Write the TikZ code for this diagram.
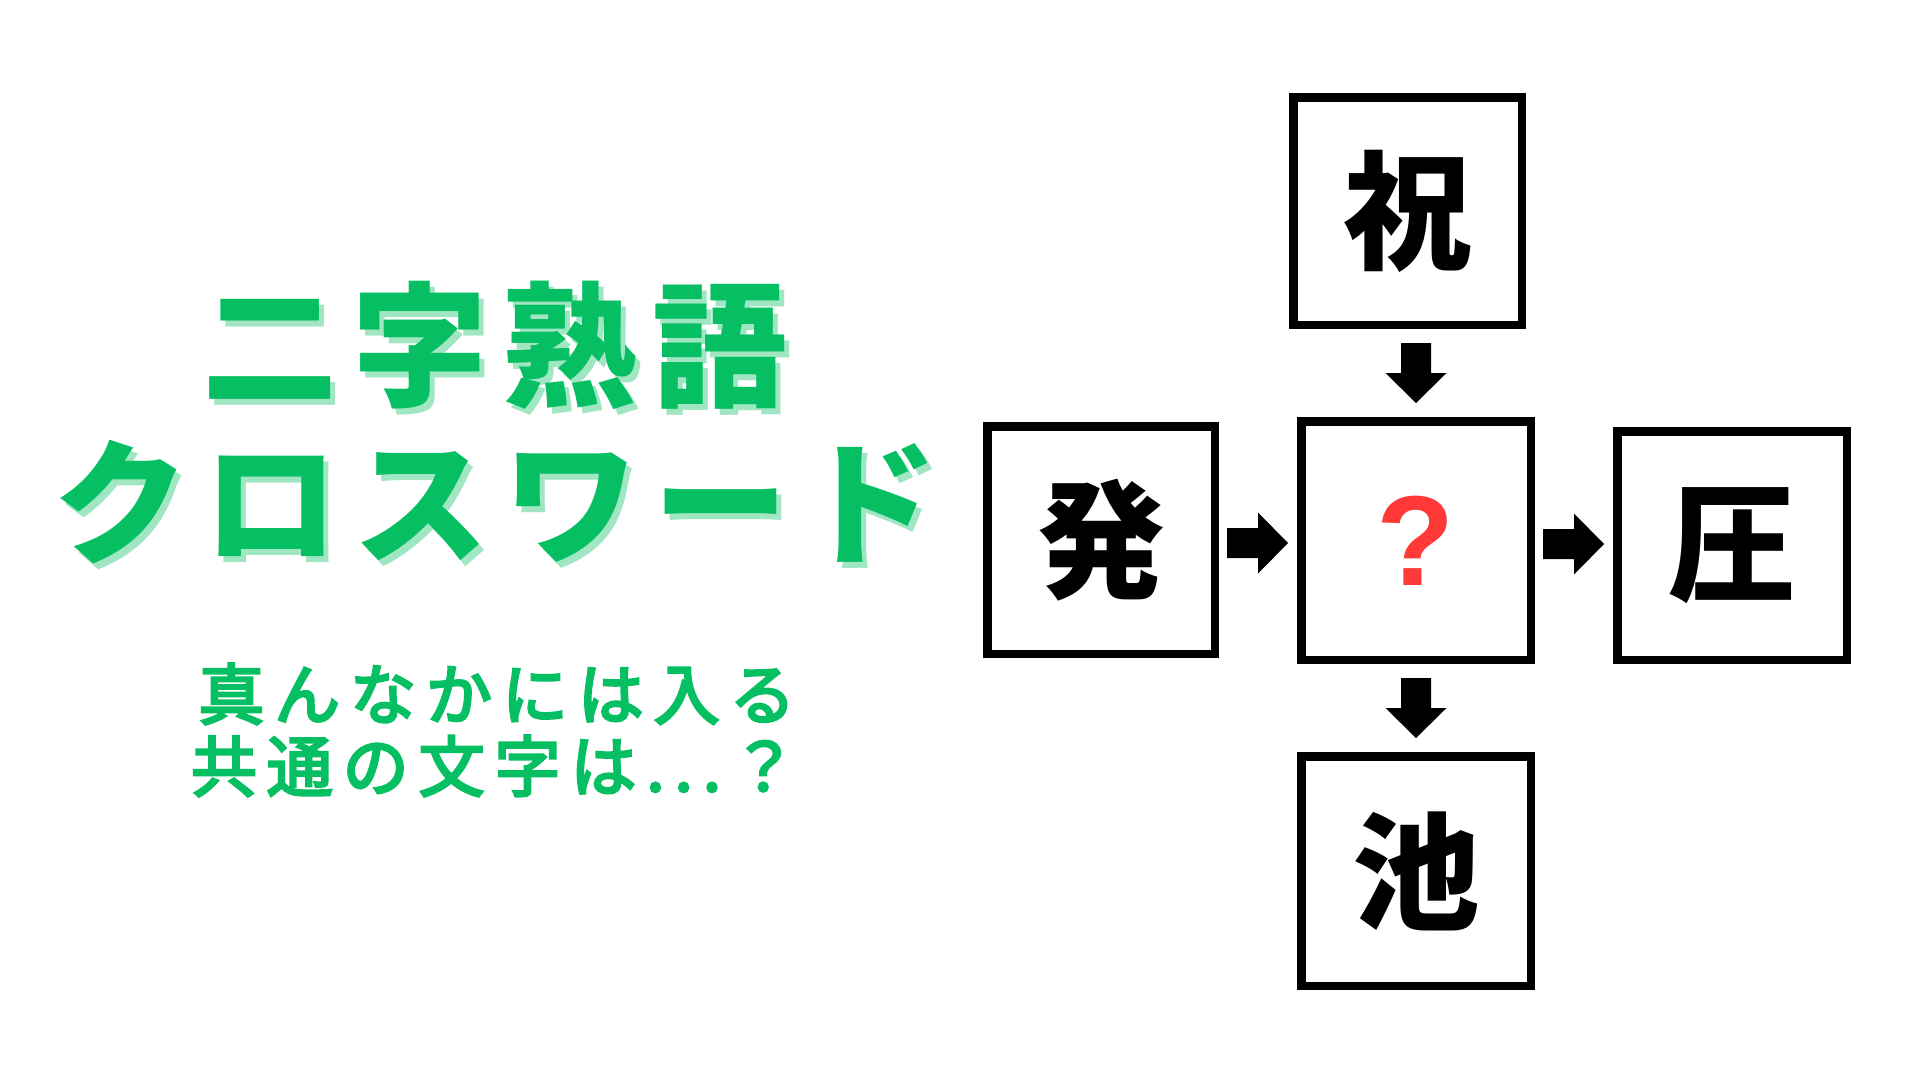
\documentclass[tikz,border=0pt]{standalone}
\usepackage{fontspec}
\usetikzlibrary{calc}
\newfontfamily\jpfont{Noto Sans CJK JP}
\newfontfamily\qfont{Liberation Sans}
\newfontfamily\titlefont[LetterSpace=11]{Noto Sans CJK JP}
\newfontfamily\subfont[LetterSpace=15,FakeBold=4]{Noto Sans CJK JP}
\definecolor{mygreen}{RGB}{6,191,99}
\definecolor{myshadow}{RGB}{160,230,195}
\definecolor{myred}{RGB}{255,56,56}
\newcommand\ArrDown[1]{\fill[black] #1 ++(-15,0) -- ++(30,0) -- ++(0,30) -- ++(15.5,0) -- ++(-30.5,30) -- ++(-30.5,-30) -- ++(15.5,0) -- cycle;}
\newcommand\ArrRight[1]{\fill[black] #1 ++(0,-15) -- ++(31,0) -- ++(0,-15.5) -- ++(30,30.5) -- ++(-30,30.5) -- ++(0,-15.5) -- ++(-31,0) -- cycle;}
\begin{document}
\begin{tikzpicture}[x=1pt,y=-1pt,
  box/.style={draw=black, line width=8.5pt, inner sep=0pt, font=\jpfont\bfseries\fontsize{128}{130}\selectfont},
  ttl/.style={inner sep=0pt, font=\titlefont\bfseries\fontsize{135}{140}\selectfont},
  sub/.style={inner sep=0pt, text=mygreen, font=\subfont\fontsize{66}{70}\selectfont}]
\useasboundingbox[fill=white] (0,0) rectangle (1920,1080);
% title with shadow
\node[ttl, text=myshadow] (t1s) at (500,351) {二字熟語};
\node[ttl, text=mygreen] (t1) at (495,345) {二字熟語};
\node[ttl, text=myshadow] (t2s) at (501,508) {クロスワード};
\node[ttl, text=mygreen] (t2) at (496,502) {クロスワード};
% subtitle
\node[sub] (s1) at (497,694) {真んなかには入る};
\node[sub] (s2) at (494,766) {共通の文字は...？};
% boxes
\node[box, minimum width=228.5pt, minimum height=227.5pt] (zhu) at (1407.5,211) {祝};
\node[box, minimum width=227.5pt, minimum height=227.5pt] (hatsu) at (1101,540) {発};
\node[box, minimum width=229.5pt, minimum height=238.5pt, text=myred, font=\qfont\bfseries\fontsize{128}{130}\selectfont] (q) at (1416,540.5) {?};
\node[box, minimum width=229.5pt, minimum height=228.5pt] (atsu) at (1732,545.5) {圧};
\node[box, minimum width=229.5pt, minimum height=229.5pt] (ike) at (1416,871) {池};
% arrows
\ArrDown{($(q.north |- zhu.south)+(0,14)$)}
\ArrDown{($(q.south)+(0,14)$)}
\ArrRight{($(hatsu.east)+(8,3)$)}
\ArrRight{($(q.east)+(8,3.5)$)}
\end{tikzpicture}
\end{document}
